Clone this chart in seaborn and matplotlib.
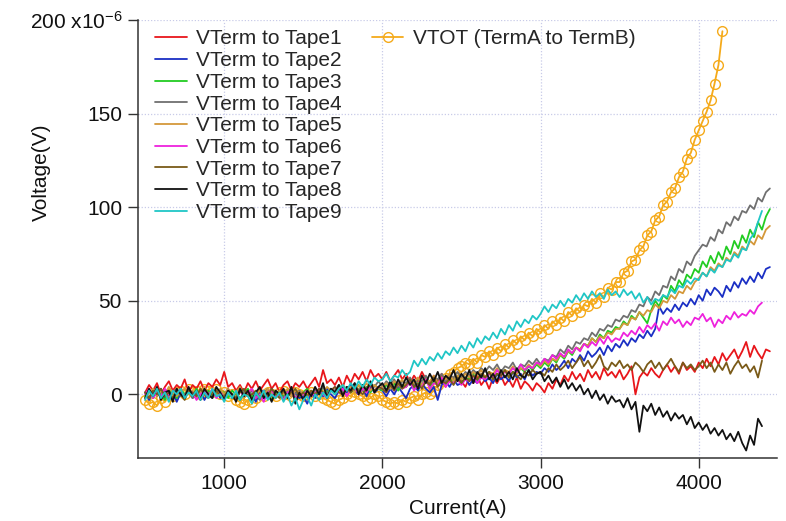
import numpy as np
import pandas as pd
import matplotlib
matplotlib.use("Agg")
import matplotlib.pyplot as plt
import seaborn as sns
from matplotlib.lines import Line2D

nan = np.nan

# current sweep (A), sampled every 25 A
current = np.arange(500, 4451, 25)
current_vtot = np.arange(500, 4151, 25)

# voltages in micro-volts (one row = 500 A)
tape1 = [1, 5, 2, 6, 0, 4, 7, 2, 5, 3, 8, 1, 5, 3, 7, 2, 6, 4, 8, 5,
         12, 4, 6, 2, 5, 1, 6, 3, 7, 2, 5, 8, 3, 6, 1, 5, 7, 2, 6, 4,
         7, 3, 6, 9, 4, 13, 6, 8, 5, 9, 4, 10, 6, 11, 8, 12, 7, 13, 9, 11,
         8, 12, 7, 10, 13, 8, 11, 6, 10, 7, 12, 8, 5, 10, 7, 11, 4, 9, 6, 10,
         7, 4, 9, 6, 10, 5, 8, 3, 9, 6, 10, 5, 8, 4, 9, 3, 7, 5, 2, 6,
         4, 1, 6, 3, 8, 5, 10, 7, 12, 8, 11, 7, 13, 9, 12, 8, 14, 10, 12, 9,
         13, 8, 11, 15, 0, 9, 12, 10, 14, 11, 9, 13, 16, 12, 15, 11, 17, 13, 15, 12,
         17, 14, 19, 15, 20, 16, 22, 18, 21, 24, 19, 23, 28, 20, 26, 22, 19, 24, 23]
tape2 = [1, -3, 2, -1, 3, -2, 0, 2, -4, 1, -1, 3, -2, 0, 2, -3, 1, -1, 2, -2,
         0, 3, -2, 1, -3, 2, -1, 0, -4, 1, 2, -2, 3, -1, 0, -3, 2, -1, 1, -2,
         -1, -5, 1, -2, 2, -1, 3, 0, -2, 2, 4, 1, 5, 2, 0, 3, -1, 4, 1, 3,
         2, -1, 3, 0, 4, 1, -2, 3, 5, 2, 6, 3, 1, 4, -3, 5, 7, 4, 8, 5,
         6, 9, 5, 8, 6, 10, 7, 9, 6, 11, 8, 10, 7, 12, 9, 11, 8, 13, 10, 12,
         11, 14, 12, 16, 13, 15, 18, 14, 19, 17, 21, 18, 23, 20, 22, 25, 21, 26, 23, 27,
         25, 29, 26, 30, 28, 32, 30, 34, 31, 35, 47, 43, 46, 44, 48, 45, 49, 47, 51, 48,
         53, 50, 56, 53, 57, 55, 52, 58, 55, 60, 57, 62, 59, 63, 60, 65, 62, 67, 68]
tape3 = [-1, 2, -2, 3, 0, -3, 2, 1, -2, 3, 0, 2, -1, 3, -2, 1, 2, -1, 0, 2,
         1, -2, 2, 0, -3, 1, 3, -1, 0, 2, -2, 1, -3, 0, 2, -1, 1, 3, -2, 0,
         1, 3, -1, 2, 0, 4, 1, 3, 0, 5, 2, 4, 1, 3, 5, 2, 4, 1, 5, 3,
         2, 5, 3, 6, 2, 5, 4, 7, 3, 6, 5, 8, 4, 7, 6, 9, 5, 8, 7, 10,
         6, 9, 8, 11, 7, 10, 9, 12, 8, 11, 10, 13, 9, 12, 11, 14, 12, 15, 13, 16,
         14, 17, 15, 19, 17, 21, 19, 23, 21, 25, 24, 27, 26, 30, 28, 32, 30, 34, 33, 36,
         35, 39, 37, 42, 40, 44, 41, 38, 45, 50, 47, 53, 51, 58, 55, 61, 58, 64, 62, 67,
         65, 71, 68, 74, 70, 76, 72, 79, 75, 82, 78, 85, 81, 88, 84, 92, 88, 95, 99]
tape4 = [1, -2, 3, 0, -1, 2, -3, 1, 3, -1, 0, 2, -2, 1, -1, 3, 0, -2, 2, 1,
         -1, 2, 0, -2, 3, 1, -1, 2, 0, -3, 1, 3, -1, 2, 0, -2, 1, 3, 0, 2,
         0, 2, -1, 3, 1, 4, 0, 3, 2, 5, 1, 4, 3, 6, 2, 5, 3, 6, 4, 7,
         4, 7, 5, 8, 4, 7, 6, 9, 5, 8, 7, 10, 6, 9, 8, 11, 7, 10, 9, 12,
         9, 12, 10, 13, 11, 14, 12, 15, 13, 16, 12, 15, 14, 17, 13, 16, 15, 18, 16, 19,
         16, 19, 18, 21, 20, 24, 22, 26, 24, 28, 27, 30, 29, 33, 31, 35, 34, 37, 36, 40,
         39, 42, 41, 45, 44, 48, 47, 52, 50, 55, 53, 58, 57, 63, 61, 67, 65, 71, 69, 74,
         77, 80, 79, 84, 82, 88, 86, 92, 90, 95, 93, 98, 97, 101, 99, 105, 103, 108, 110]
tape5 = [-2, 1, 3, -1, 2, 0, 4, 1, -1, 2, 3, 0, 2, -2, 1, 4, 0, 2, -1, 3,
         0, 3, -1, 1, 4, -2, 1, 3, 0, 2, -1, 3, 1, -2, 2, 0, 3, -1, 2, 1,
         1, -1, 2, 0, 3, 1, 4, 2, 0, 3, 5, 2, 4, 1, 5, 3, 6, 2, 5, 3,
         4, 6, 3, 7, 5, 8, 4, 7, 6, 9, 5, 8, 7, 10, 6, 9, 8, 11, 7, 10,
         8, 11, 9, 12, 10, 13, 9, 12, 11, 14, 10, 13, 12, 15, 11, 14, 13, 16, 14, 17,
         15, 18, 16, 19, 18, 21, 20, 23, 22, 25, 24, 27, 26, 30, 28, 31, 30, 33, 32, 35,
         35, 38, 37, 41, 40, 44, 42, 45, 44, 48, 46, 50, 49, 53, 51, 55, 54, 58, 56, 60,
         62, 65, 63, 68, 66, 70, 68, 73, 71, 76, 74, 79, 77, 82, 80, 85, 83, 88, 90]
tape6 = [0, 3, -2, 1, -1, 3, 0, -3, 2, 0, -2, 2, 1, -3, 0, 2, -1, 3, -2, 1,
         -2, 1, 0, -3, 2, -1, 1, 3, -2, 0, -4, 1, 2, -1, 0, -3, 1, 2, -2, 0,
         0, 2, -1, 1, 3, 0, -2, 2, 4, 1, 3, -1, 2, 4, 0, 3, 1, 5, 2, 4,
         3, 1, 5, 2, 6, 3, 4, 7, 2, 5, 4, 8, 3, 6, 5, 9, 4, 7, 6, 8,
         5, 8, 7, 10, 6, 9, 8, 11, 9, 13, 10, 12, 11, 14, 12, 16, 13, 15, 14, 17,
         16, 19, 17, 21, 19, 22, 20, 24, 22, 25, 23, 27, 25, 28, 26, 30, 27, 31, 28, 30,
         29, 33, 31, 34, 32, 36, 33, 37, 35, 38, 34, 39, 37, 41, 38, 40, 36, 39, 37, 41,
         40, 43, 39, 41, 36, 40, 38, 42, 40, 44, 41, 43, 42, 45, 43, 47, 49, nan, nan]
tape7 = [1, -2, 2, 0, 3, -1, 1, -2, 2, 0, -3, 2, 1, -1, 3, 0, -2, 1, 2, -1,
         -1, 2, 0, -2, 1, 3, -1, 0, 2, -2, 1, -1, 3, 0, -2, 2, -1, 1, 3, -1,
         1, -1, 2, 0, 3, 1, -1, 2, 4, 1, 0, 3, 1, 4, 2, 0, 3, 5, 2, 4,
         3, 1, 5, 2, 6, 3, 5, 8, 4, 6, 3, 7, 5, 9, 4, 7, 6, 8, 5, 9,
         6, 9, 7, 10, 8, 11, 9, 12, 8, 11, 10, 13, 9, 12, 10, 8, 12, 10, 13, 11,
         12, 10, 14, 12, 16, 13, 15, 18, 14, 17, 20, 15, 18, 14, 17, 21, 15, 13, 17, 15,
         18, 14, 16, 13, 17, 15, 12, 16, 18, 14, 17, 13, 16, 19, 15, 12, 17, 14, 16, 13,
         15, 18, 14, 17, 12, 16, 13, 17, 11, 15, 18, 14, 16, 12, 15, 9, 18, nan, nan]
tape8 = [-2, 3, -1, 4, -3, 1, 2, -4, 3, 0, -2, 4, -1, 2, -3, 3, 0, -2, 4, 1,
         -3, 2, 0, -4, 3, -1, 2, -3, 1, 4, -2, 1, -4, 2, 0, 3, -2, 4, -5, 1,
         -3, 2, -1, 4, 0, 6, -2, 3, 1, 5, -1, 4, 2, 6, 0, 5, 2, 7, 1, 4,
         6, 2, 7, 3, 8, 4, 9, 5, 8, 3, 10, 6, 11, 7, 12, 6, 10, 8, 13, 7,
         11, 8, 13, 6, 12, 9, 14, 8, 11, 7, 13, 9, 12, 8, 14, 10, 9, 13, 8, 11,
         12, 7, 10, 6, 9, 4, 8, 3, 6, 2, 5, 0, 3, -2, 2, -3, 0, -5, -1, -4,
         -3, -7, -2, -8, -4, -20, -6, -9, -5, -11, -7, -12, -9, -14, -10, -13, -11, -16, -12, -18,
         -15, -19, -16, -21, -18, -22, -19, -24, -21, -25, -20, -26, -30, -22, -27, -13, -17, nan, nan]
tape9 = [-3, 2, -1, 3, -2, 1, -4, 2, 0, 3, -2, 1, -1, 2, -3, 1, -2, 3, -1, 0,
         -4, 1, -2, 2, -3, 0, -1, -5, 1, -2, 2, -3, 0, -2, 1, -4, 0, -6, -2, -8,
         -3, -1, -6, 0, -3, 1, -2, 2, 0, 3, 5, 2, 6, 3, 7, 4, 8, 5, 9, 7,
         8, 11, 7, 10, 9, 13, 10, 12, 18, 15, 19, 16, 20, 18, 22, 19, 23, 21, 25, 22,
         26, 23, 28, 25, 30, 27, 31, 29, 33, 30, 35, 32, 37, 34, 39, 36, 40, 38, 42, 40,
         43, 47, 44, 48, 46, 50, 47, 51, 49, 53, 50, 54, 51, 55, 52, 54, 51, 56, 53, 55,
         52, 56, 53, 55, 51, 54, 49, 52, 48, 51, 50, 53, 52, 56, 54, 58, 57, 61, 59, 62,
         61, 65, 63, 67, 65, 69, 68, 72, 71, 75, 73, 78, 77, 83, 86, 92, 98, nan, nan]
vtot = [-3, -5, -4, -6, -2, -4, 0, -1, 1, 2, 0, 3, 1, 2, 0, 3, 2, 1, 3, 0,
        1, -1, 0, -3, -4, -5, -3, -4, -2, 0, -1, 1, 0, -1, 1, 2, 0, -1, 1, 0,
        -1, 0, 1, -1, 0, -2, -3, -4, -5, -3, -2, 0, -1, 1, 0, -1, -3, -2, 0, -1,
        -3, -4, -5, -4, -5, -3, -4, -2, -1, -3, 0, 1, 0, 2, 5, 7, 9, 11, 12, 14,
        15, 17, 16, 19, 17, 21, 20, 23, 21, 25, 23, 27, 25, 29, 27, 31, 29, 33, 31, 35,
        33, 37, 35, 39, 37, 41, 39, 44, 42, 46, 44, 48, 47, 51, 49, 54, 52, 57, 56, 60,
        60, 65, 66, 71, 72, 77, 79, 85, 87, 93, 95, 101, 103, 108, 110, 116, 119, 126, 129, 136,
        141, 146, 151, 157, 166, 176, 194]

tape_names = ["VTerm to Tape1", "VTerm to Tape2", "VTerm to Tape3",
              "VTerm to Tape4", "VTerm to Tape5", "VTerm to Tape6",
              "VTerm to Tape7", "VTerm to Tape8", "VTerm to Tape9"]
tape_colors = ["#e8161b", "#1a2fc4", "#22cc22", "#707070", "#d4983a",
               "#ee22dd", "#7a5a18", "#111111", "#20c6c6"]
vtot_name = "VTOT (TermA to TermB)"
vtot_color = "#f5aa1a"

tapes = [tape1, tape2, tape3, tape4, tape5, tape6, tape7, tape8, tape9]
df_tapes = pd.concat(
    [pd.DataFrame({"Current": current, "Voltage": v, "Series": n})
     for v, n in zip(tapes, tape_names)], ignore_index=True)
df_vtot = pd.DataFrame({"Current": current_vtot, "Voltage": vtot})

sns.set_theme(style="white")
plt.rcParams['font.family'] = ['Liberation Sans', 'DejaVu Sans']
plt.rcParams['mathtext.fontset'] = 'custom'
plt.rcParams['mathtext.rm'] = 'Liberation Sans'
plt.rcParams['mathtext.default'] = 'regular'

fig = plt.figure(figsize=(7.86, 5.21), dpi=100)
ax = fig.add_axes([138 / 786, 1 - 458 / 521, (777 - 138) / 786, (458 - 20) / 521])

# total voltage with hollow circles, drawn underneath
sns.lineplot(data=df_vtot, x="Current", y="Voltage", color=vtot_color,
             marker="o", markersize=7, markerfacecolor="none",
             markeredgecolor=vtot_color, markeredgewidth=1.0, linewidth=1.3,
             estimator=None, sort=False, ax=ax)
sns.lineplot(data=df_tapes.dropna(), x="Current", y="Voltage", hue="Series",
             palette=dict(zip(tape_names, tape_colors)), linewidth=1.3,
             estimator=None, sort=False, legend=False, ax=ax)

ax.set_xlim(455, 4495)
ax.set_ylim(-34, 200)
ax.set_xticks([1000, 2000, 3000, 4000])
ax.set_yticks([0, 50, 100, 150, 200])
ax.set_yticklabels(["0", "50", "100", "150", r"200 x10$^{-6}$"])

ax.grid(True, color="#c8cbe8", linestyle=(0, (1, 1.5)), linewidth=0.9)
ax.set_axisbelow(True)
for s in ["top", "right"]:
    ax.spines[s].set_visible(False)
for s in ["left", "bottom"]:
    ax.spines[s].set_color("#333333")
    ax.spines[s].set_linewidth(1.1)
ax.tick_params(bottom=True, left=True, direction="out", length=7.5, width=1.0,
               color="#333333", labelsize=15, labelcolor="#111111", pad=4)

ax.set_xlabel("Current(A)", fontsize=15, color="#111111")
ax.set_ylabel("Voltage(V)", fontsize=15, color="#111111")
ax.xaxis.set_label_coords(0.5, -0.094)
ax.yaxis.set_label_coords(-0.136, 0.653)

handles = [Line2D([], [], color=c, lw=1.3) for c in tape_colors]
leg1 = ax.legend(handles, tape_names, loc="upper left",
                 bbox_to_anchor=(155 / 786, 1 - 29.5 / 521), bbox_transform=fig.transFigure,
                 frameon=False, fontsize=15, borderpad=0, borderaxespad=0,
                 labelspacing=0.13, handlelength=1.55, handletextpad=0.42)
ax.add_artist(leg1)
vtot_handle = Line2D([], [], color=vtot_color, lw=1.3, marker="o", markersize=7,
                     markerfacecolor="none", markeredgewidth=1.0)
ax.legend([vtot_handle], [vtot_name], loc="upper left",
          bbox_to_anchor=(372 / 786, 1 - 29.5 / 521), bbox_transform=fig.transFigure,
          frameon=False, fontsize=15, borderpad=0, borderaxespad=0,
          handlelength=1.5, handletextpad=0.47)

fig.savefig("out.png", dpi=100)
